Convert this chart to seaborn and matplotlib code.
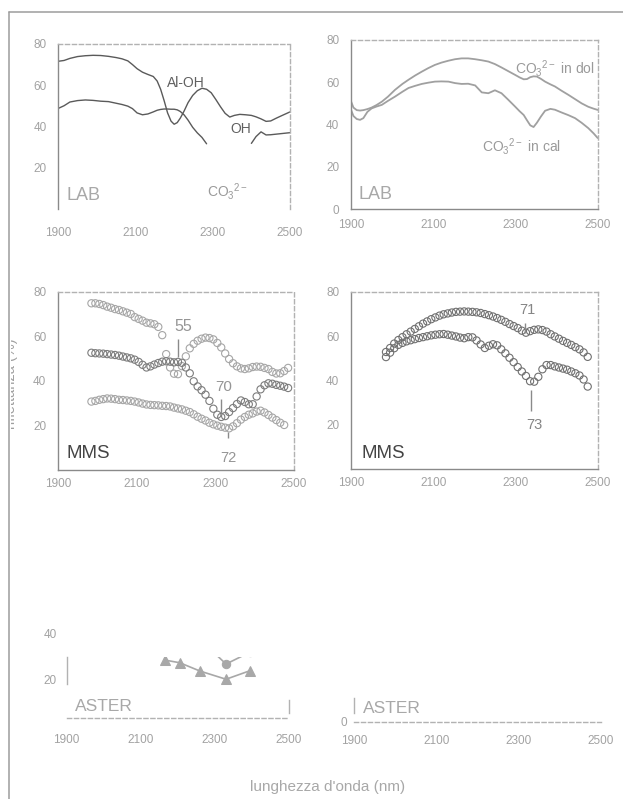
import numpy as np
import pandas as pd
import seaborn as sns
import matplotlib
matplotlib.use("Agg")
import matplotlib.pyplot as plt
from matplotlib.lines import Line2D
from matplotlib.transforms import Bbox, TransformedBbox

# ---------------- laboratory spectra (LAB) ----------------
lab_wl_a = [1900, 1915, 1930, 1950, 1970, 1990, 2010, 2030, 2050, 2065,
            2080, 2092, 2104, 2118, 2132, 2146, 2156, 2165, 2174, 2183,
            2192, 2200, 2208, 2216, 2226, 2236, 2248, 2260, 2272, 2284,
            2296, 2308, 2320, 2332, 2344, 2356, 2370, 2385, 2400, 2412,
            2425, 2438, 2450, 2465, 2480, 2500]
lab_aloh = [71.6, 72.0, 73.0, 73.9, 74.3, 74.5, 74.4, 74.0, 73.4, 72.8,
            71.8, 70.0, 68.0, 66.3, 65.2, 64.2, 62.0, 58.0, 52.5, 46.5,
            42.5, 41.0, 41.8, 44.0, 47.5, 51.5, 55.0, 57.3, 58.5, 58.0,
            56.3, 53.0, 49.5, 46.3, 44.5, 45.3, 45.8, 45.6, 45.3, 44.6,
            43.6, 42.4, 42.6, 44.0, 45.3, 47.0]
lab_oh = [48.7, 50.0, 51.8, 52.5, 52.8, 52.6, 52.2, 52.0, 51.2, 50.6,
          49.8, 48.6, 46.5, 45.6, 46.0, 47.0, 47.8, 48.2, 48.4, 48.4,
          48.3, 48.3, 48.0, 47.2, 45.5, 43.0, 39.5, 36.8, 34.6, 31.5,
          np.nan, np.nan, np.nan, np.nan, np.nan, np.nan, np.nan, np.nan, 31.7, 35.0,
          37.3, 35.8, 35.9, 36.2, 36.5, 36.9]

lab_wl_b = [1900, 1906, 1914, 1922, 1930, 1940, 1950, 1962, 1975, 1990,
            2007, 2025, 2040, 2056, 2072, 2088, 2104, 2120, 2137, 2153,
            2169, 2185, 2202, 2218, 2234, 2250, 2266, 2282, 2299, 2310,
            2320, 2328, 2336, 2344, 2352, 2362, 2372, 2385, 2396, 2412,
            2429, 2445, 2461, 2477, 2490, 2500]
lab_dol = [51.0, 48.0, 46.8, 46.6, 46.8, 47.3, 48.0, 49.2, 50.8, 53.2,
           56.4, 59.2, 61.2, 63.2, 65.0, 66.7, 68.2, 69.3, 70.2, 70.9,
           71.3, 71.3, 70.9, 70.4, 69.8, 68.6, 67.0, 65.3, 63.5, 62.3,
           61.4, 61.5, 62.4, 62.8, 62.7, 61.6, 60.3, 59.0, 58.0, 56.0,
           54.0, 52.0, 50.0, 48.4, 47.5, 46.9]
lab_cal = [47.0, 44.0, 42.6, 42.2, 43.0, 46.0, 47.6, 48.5, 49.3, 51.2,
           53.2, 55.5, 57.3, 58.3, 59.2, 59.8, 60.3, 60.4, 60.3, 59.6,
           59.2, 59.3, 58.5, 55.2, 54.8, 56.2, 54.8, 51.8, 48.5, 46.3,
           44.5, 42.0, 39.6, 38.8, 40.8, 43.8, 46.5, 47.4, 47.0, 45.7,
           44.4, 43.0, 40.8, 38.3, 35.8, 33.6]

# ---------------- MMS spectra ----------------
mms_wl_a = [1985, 1995, 2005, 2015, 2025, 2035, 2045, 2055, 2065, 2075,
            2085, 2095, 2105, 2115, 2125, 2135, 2145, 2155, 2165, 2175,
            2185, 2195, 2205, 2215, 2225, 2235, 2245, 2255, 2265, 2275,
            2285, 2295, 2305, 2315, 2325, 2335, 2345, 2355, 2365, 2375,
            2385, 2395, 2405, 2415, 2425, 2435, 2445, 2455, 2465, 2475,
            2485]
mms_55 = [74.8, 74.8, 74.5, 74.0, 73.3, 72.8, 72.2, 71.8, 71.2, 70.6,
          70.0, 68.6, 67.8, 67.0, 66.1, 65.8, 65.4, 64.2, 60.5, 52.0,
          46.0, 43.2, 43.0, 46.6, 51.0, 54.6, 56.6, 58.0, 58.9, 59.4,
          59.2, 58.6, 57.0, 55.0, 52.3, 49.8, 47.9, 46.5, 45.6, 45.3,
          45.6, 46.2, 46.4, 46.3, 45.8, 45.3, 44.0, 43.3, 43.4, 44.4,
          45.8]
mms_70 = [52.6, 52.4, 52.3, 52.2, 52.0, 51.8, 51.6, 51.3, 50.9, 50.5,
          50.1, 49.5, 48.5, 47.2, 46.0, 46.5, 47.3, 48.0, 48.6, 48.8,
          48.6, 48.3, 48.5, 48.1, 46.0, 43.4, 39.8, 37.5, 35.8, 33.8,
          31.0, 27.5, 24.8, 23.8, 24.2, 26.0, 27.8, 29.6, 31.2, 30.5,
          29.5, 29.5, 33.0, 36.2, 38.0, 38.9, 38.7, 38.2, 37.8, 37.4,
          36.8]
mms_72 = [30.7, 31.0, 31.5, 31.8, 32.1, 32.0, 31.8, 31.5, 31.4, 31.2,
          31.0, 30.7, 30.3, 29.8, 29.4, 29.2, 29.1, 29.0, 28.8, 28.7,
          28.5, 28.0, 27.6, 27.2, 26.6, 26.0, 25.0, 23.9, 23.0, 22.2,
          21.2, 20.5, 19.9, 19.4, 19.0, 18.7, 19.6, 21.0, 22.6, 23.8,
          24.8, 25.4, 26.2, 26.6, 25.8, 24.7, 23.5, 22.4, 21.2, 20.2,
          np.nan]

mms_wl_b = [1985, 1995, 2005, 2015, 2025, 2035, 2045, 2055, 2065, 2075,
            2085, 2095, 2105, 2115, 2125, 2135, 2145, 2155, 2165, 2175,
            2185, 2195, 2205, 2215, 2225, 2235, 2245, 2255, 2265, 2275,
            2285, 2295, 2305, 2315, 2325, 2335, 2345, 2355, 2365, 2375,
            2385, 2395, 2405, 2415, 2425, 2435, 2445, 2455, 2465, 2475]
mms_71 = [52.8, 54.6, 56.6, 58.2, 59.5, 60.8, 62.0, 63.2, 64.4, 65.6,
          66.6, 67.6, 68.4, 69.2, 69.8, 70.2, 70.6, 70.9, 71.0, 71.1,
          71.0, 70.9, 70.7, 70.4, 69.9, 69.4, 68.8, 68.1, 67.3, 66.4,
          65.4, 64.5, 63.6, 62.4, 61.5, 62.2, 62.8, 63.0, 62.7, 62.0,
          60.8, 59.8, 58.8, 57.8, 56.9, 56.0, 55.0, 54.0, 52.6, 50.6]
mms_73 = [50.5, 52.5, 54.5, 56.0, 56.9, 57.6, 58.1, 58.6, 59.1, 59.5,
          59.9, 60.3, 60.6, 60.8, 60.9, 60.6, 60.2, 59.8, 59.3, 59.0,
          59.5, 59.4, 58.0, 56.2, 54.6, 55.6, 56.3, 55.8, 54.0, 52.2,
          50.2, 48.2, 46.0, 44.0, 42.0, 39.6, 39.4, 41.6, 45.0, 46.9,
          46.9, 46.3, 45.8, 45.3, 44.8, 44.0, 43.2, 42.2, 40.4, 37.2]

# ---------------- ASTER band centres ----------------
aster_wl = [2165, 2205, 2260, 2330, 2395]
aster_a = [28.6, 27.4, 23.6, 19.9, 23.8]
aster_b = [np.nan, np.nan, 38.0, 26.8, 32.2]

xticks = [1900, 2100, 2300, 2500]

# ---------------- style ----------------
sns.set_style("white")
plt.rcParams["font.family"] = ["Liberation Sans", "DejaVu Sans"]
plt.rcParams["mathtext.fontset"] = "custom"
plt.rcParams["mathtext.rm"] = "Liberation Sans"
plt.rcParams["mathtext.it"] = "Liberation Sans:italic"
plt.rcParams["mathtext.bf"] = "Liberation Sans:bold"

W, H = 623, 799
fig = plt.figure(figsize=(W / 100, H / 100), dpi=100)
fig.patch.set_facecolor("white")

TICK_C = "#a2a2a2"
SPINE_C = "#8a8a8a"
DASH_C = "#b2b2b2"
GREY = "#9a9a9a"


def rect(left, right, top, bottom):
    return [left / W, 1 - bottom / H, (right - left) / W, (bottom - top) / H]


def style(ax, xpad, xlen=5, xdir="inout"):
    ax.set_xlim(1900, 2500)
    ax.set_xticks(xticks)
    for s in ("top", "right"):
        ax.spines[s].set_linestyle((0, (3, 2)))
        ax.spines[s].set_color(DASH_C)
        ax.spines[s].set_linewidth(1.0)
    for s in ("left", "bottom"):
        ax.spines[s].set_color(SPINE_C)
        ax.spines[s].set_linewidth(1.0)
    ax.tick_params(axis="both", colors=SPINE_C, labelcolor=TICK_C,
                   labelsize=8.5, width=0.9)
    ax.tick_params(axis="y", direction="out", length=4, pad=4.5)
    ax.tick_params(axis="x", direction=xdir, length=xlen, pad=xpad)
    ax.set_xlabel("")
    ax.set_ylabel("")
    ax.patch.set_alpha(0)


def runs(x, y):
    x = np.asarray(x, float)
    y = np.asarray(y, float)
    ok = np.isfinite(y).astype(int)
    edges = np.flatnonzero(np.diff(np.r_[0, ok, 0]))
    for a, b in zip(edges[::2], edges[1::2]):
        yield x[a:b], y[a:b]


def spectrum_line(ax, x, y, color, lw):
    for xs, ys in runs(x, y):
        sns.lineplot(x=xs, y=ys, ax=ax, color=color, lw=lw,
                     estimator=None, sort=False)


def spectrum_dots(ax, x, y, color):
    sns.scatterplot(x=np.asarray(x, float), y=np.asarray(y, float), ax=ax,
                    s=27, facecolor="none", edgecolor=color, linewidth=0.8,
                    marker="o")


co3 = r"CO$_3$$^{2-}$"

# ---- LAB, left ----
ax = fig.add_axes(rect(58.3, 290, 44, 208.6))
spectrum_line(ax, lab_wl_a, lab_aloh, "#5a5a5a", 1.0)
spectrum_line(ax, lab_wl_a, lab_oh, "#5a5a5a", 1.0)
ax.set_ylim(0, 80)
ax.set_yticks([0, 20, 40, 60, 80])
ax.set_yticklabels(["", "20", "40", "60", "80"])
style(ax, xpad=13, xlen=0)
ax.spines["bottom"].set_visible(False)
ax.text(2229, 61.2, "Al-OH", color="#606060", fontsize=10, ha="center", va="center")
ax.text(2372, 38.7, "OH", color="#606060", fontsize=10, ha="center", va="center")
ax.text(2284, 8.2, co3, color=GREY, fontsize=10, ha="left", va="center")
ax.text(1921, 6.6, "LAB", color="#a8a8a8", fontsize=13, ha="left", va="center")

# ---- LAB, right ----
ax = fig.add_axes(rect(351, 597.7, 40, 209))
spectrum_line(ax, lab_wl_b, lab_dol, "#a0a0a0", 1.3)
spectrum_line(ax, lab_wl_b, lab_cal, "#a0a0a0", 1.3)
ax.set_ylim(0, 80)
ax.set_yticks([0, 20, 40, 60, 80])
style(ax, xpad=4.5, xlen=3, xdir="out")
ax.text(2299, 66.6, co3 + " in dol", color=GREY, fontsize=10, ha="left", va="center")
ax.text(2218, 29.6, co3 + " in cal", color=GREY, fontsize=10, ha="left", va="center")
ax.text(1918, 6.8, "LAB", color="#a8a8a8", fontsize=13, ha="left", va="center")

# ---- MMS, left ----
ax = fig.add_axes(rect(58, 294, 291.7, 470))
spectrum_dots(ax, mms_wl_a, mms_55, "#a6a6a6")
spectrum_dots(ax, mms_wl_a, mms_70, "#7c7c7c")
spectrum_dots(ax, mms_wl_a, mms_72, "#a6a6a6")
ax.set_ylim(0, 80)
ax.set_yticks([0, 20, 40, 60, 80])
ax.set_yticklabels(["", "20", "40", "60", "80"])
style(ax, xpad=3)
lead = dict(color="#8a8a8a", lw=1.0)
ax.vlines(2205, 50.8, 59, **lead)
ax.text(2218, 64.3, "55", color="#959595", fontsize=11.5, ha="center", va="center")
ax.vlines(2315, 25.4, 32, **lead)
ax.text(2321, 37.4, "70", color="#959595", fontsize=11, ha="center", va="center")
ax.vlines(2332, 14.2, 17.2, **lead)
ax.text(2332, 5.2, "72", color="#959595", fontsize=10.5, ha="center", va="center")
ax.text(1921, 7.5, "MMS", color="#444444", fontsize=13.5, ha="left", va="center")

# ---- MMS, right ----
ax = fig.add_axes(rect(351, 598, 291.7, 469))
spectrum_dots(ax, mms_wl_b, mms_71, "#707070")
spectrum_dots(ax, mms_wl_b, mms_73, "#707070")
ax.set_ylim(0, 80)
ax.set_yticks([0, 20, 40, 60, 80])
ax.set_yticklabels(["", "20", "40", "60", "80"])
style(ax, xpad=3)
ax.vlines(2323, 61.2, 65.7, **lead)
ax.text(2328, 71.7, "71", color="#858585", fontsize=10.5, ha="center", va="center")
ax.vlines(2338, 26, 35.7, **lead)
ax.text(2346, 20, "73", color="#858585", fontsize=10.5, ha="center", va="center")
ax.text(1926, 7.2, "MMS", color="#444444", fontsize=13.5, ha="left", va="center")

# ---- ASTER, left ----
ax = fig.add_axes(rect(66.7, 289, 657, 718))
sns.lineplot(x=aster_wl, y=aster_a, ax=ax, color="#a8a8a8", lw=1.2,
             marker="^", markersize=7, markeredgecolor="#a8a8a8",
             estimator=None, sort=False)
xb, yb = next(runs(aster_wl, aster_b))
sns.lineplot(x=xb, y=yb, ax=ax, color="#a8a8a8", lw=1.2,
             marker="o", markersize=6, markeredgecolor="#a8a8a8",
             estimator=None, sort=False)
ax.set_ylim(2.3, 30)
ax.set_yticks([20])
style(ax, xpad=9)
ax.tick_params(axis="y", direction="inout", length=5, pad=4.5)
for s in ("left", "bottom", "right"):
    ax.spines[s].set_color(DASH_C)
ax.spines["top"].set_visible(False)
ax.spines["bottom"].set_linestyle((0, (3, 2)))
ax.spines["left"].set_bounds(17.7, 30)
ax.spines["right"].set_linestyle("-")
ax.spines["right"].set_bounds(4.5, 10.5)
ax.text(-0.046, 40, "40", transform=ax.get_yaxis_transform(), color=TICK_C,
        fontsize=8.5, ha="right", va="center", clip_on=False)
ax.text(1922, 7.7, "ASTER", color="#a8a8a8", fontsize=12.5, ha="left", va="center")

# ---- ASTER, right ----
ax = fig.add_axes(rect(354.3, 600.7, 655.7, 721.7))
ax.set_ylim(0, 30)
ax.set_yticks([0])
style(ax, xpad=7)
ax.tick_params(axis="y", direction="inout", length=5, pad=3)
for s in ("left", "bottom"):
    ax.spines[s].set_color(DASH_C)
ax.spines["top"].set_visible(False)
ax.spines["right"].set_visible(False)
ax.spines["bottom"].set_linestyle((0, (3, 2)))
ax.spines["left"].set_bounds(3.9, 10.8)
ax.text(1921, 6.2, "ASTER", color="#a8a8a8", fontsize=12.5, ha="left", va="center")

# ---- shared labels and page frame ----
fig.text(328 / W, 1 - 786.7 / H, "lunghezza d'onda (nm)", color="#a8a8a8",
         fontsize=11, ha="center", va="center")
ylab = fig.text(11.5 / W, 1 - 384 / H, "riflettanza (%)", color="#a0a0a0",
                fontsize=10.5, rotation=90, ha="center", va="center")
ylab.set_clip_box(TransformedBbox(Bbox([[10.5 / W, 0], [60 / W, 1]]), fig.transFigure))
ylab.set_clip_on(True)

fig.add_artist(Line2D([9 / W, 9 / W], [0, 1 - 12 / H], transform=fig.transFigure,
                      color="#9c9c9c", lw=1.1))
fig.add_artist(Line2D([9 / W, 1], [1 - 12 / H, 1 - 12 / H], transform=fig.transFigure,
                      color="#9c9c9c", lw=1.1))

fig.savefig("out.png", dpi=100, facecolor="white")
